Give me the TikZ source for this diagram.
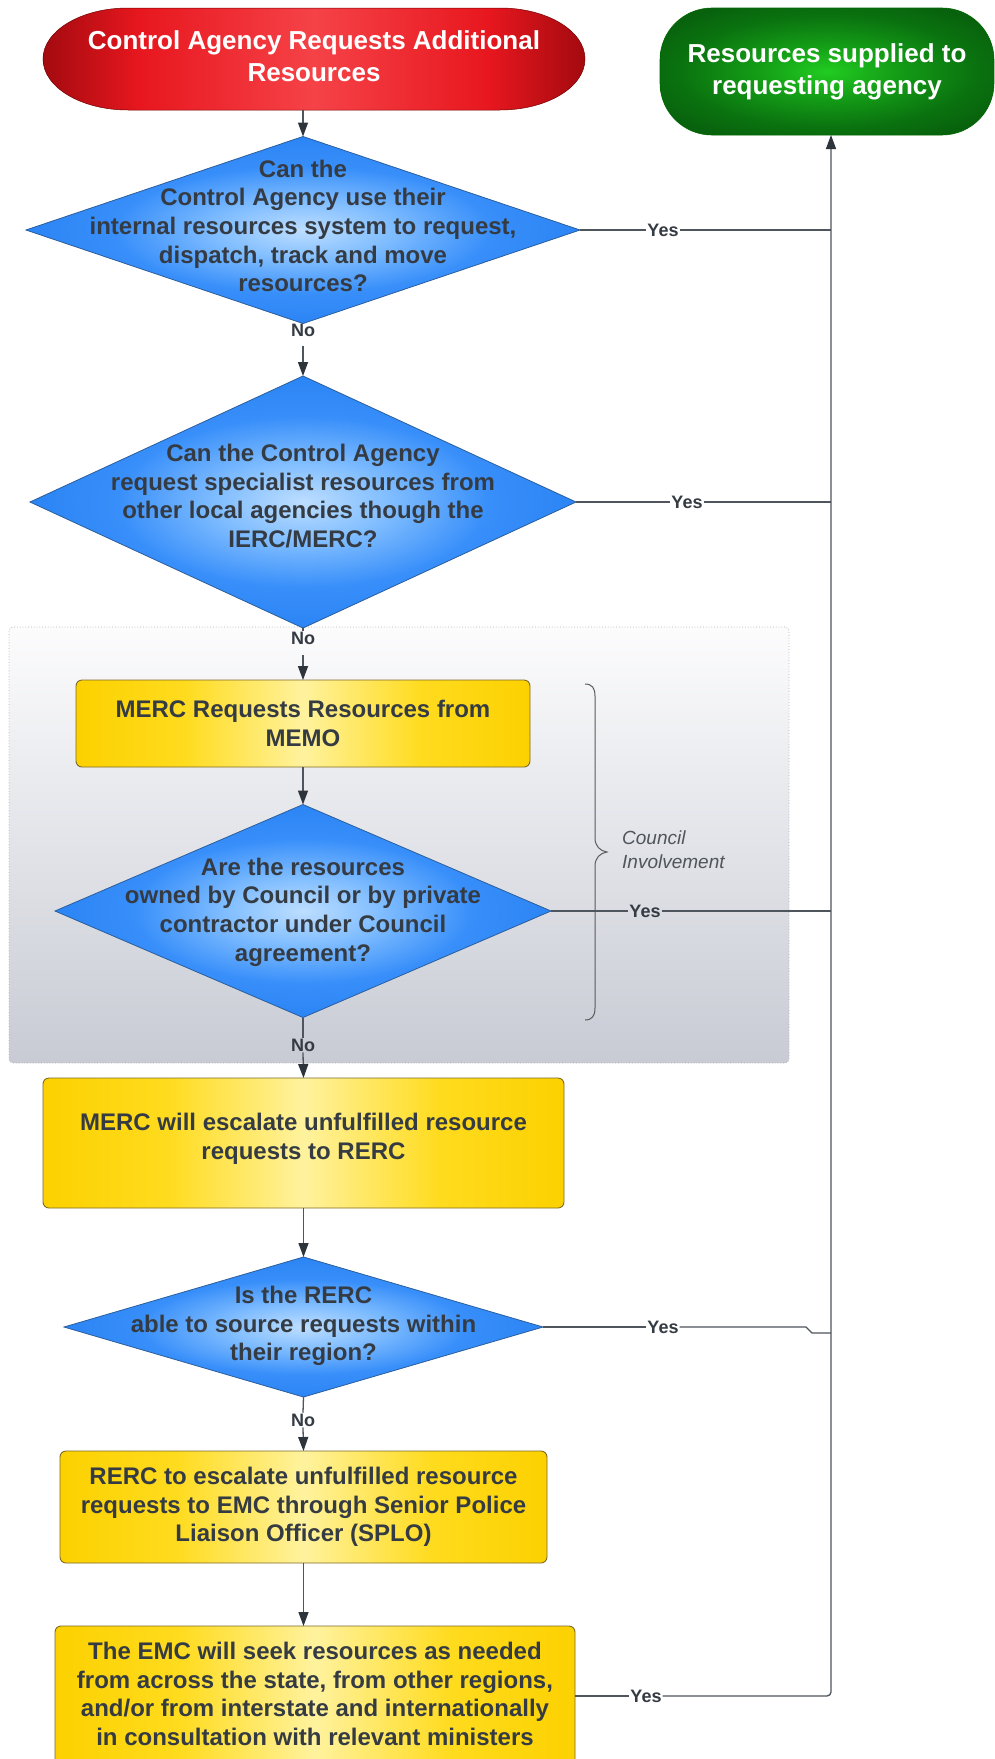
\documentclass[tikz,border=0pt]{standalone}
\usepackage{fontspec}
\setmainfont{Liberation Sans}
\usetikzlibrary{arrows.meta,shapes.geometric}
\definecolor{linec}{HTML}{4F555D}
\definecolor{arrc}{HTML}{2E343C}
\definecolor{txt}{HTML}{353B43}
\definecolor{diab}{HTML}{2B5E9C}
\definecolor{yelb}{HTML}{7D6B28}
\definecolor{grpb}{HTML}{B4B4B8}
\definecolor{grtop}{HTML}{FCFCFD}
\definecolor{grbot}{HTML}{C8CBD4}
\definecolor{brc}{HTML}{5A5A5A}
\definecolor{cic}{HTML}{50555C}
\pgfdeclarehorizontalshading{redsh}{100bp}{rgb(0bp)=(0.62,0.04,0.06); rgb(25bp)=(0.64,0.04,0.06); rgb(34bp)=(0.91,0.09,0.12); rgb(50bp)=(0.96,0.26,0.28); rgb(66bp)=(0.91,0.09,0.12); rgb(75bp)=(0.64,0.04,0.06); rgb(100bp)=(0.62,0.04,0.06)}
\pgfdeclareradialshading{greensh}{\pgfpoint{0bp}{0bp}}{rgb(0bp)=(0.13,0.80,0.13); rgb(10bp)=(0.08,0.62,0.09); rgb(22bp)=(0.04,0.45,0.06); rgb(30bp)=(0.03,0.38,0.05); rgb(50bp)=(0.03,0.36,0.05)}
\pgfdeclareradialshading{bluesh}{\pgfpoint{0bp}{0bp}}{rgb(0bp)=(0.74,0.87,1.0); rgb(8bp)=(0.50,0.74,1.0); rgb(17bp)=(0.22,0.56,0.98); rgb(25bp)=(0.17,0.52,0.96); rgb(50bp)=(0.17,0.52,0.96)}
\pgfdeclarehorizontalshading{yelsh}{100bp}{rgb(0bp)=(0.99,0.82,0.0); rgb(25bp)=(0.99,0.82,0.0); rgb(37bp)=(1.0,0.86,0.12); rgb(50bp)=(1.0,0.95,0.62); rgb(63bp)=(1.0,0.86,0.12); rgb(75bp)=(0.99,0.82,0.0); rgb(100bp)=(0.99,0.82,0.0)}
\tikzset{
  term/.style={rectangle, outer sep=0pt, text=white, font=\fontsize{26}{32}\selectfont\bfseries, align=center},
  dia/.style={diamond, shade, shading=bluesh, draw=diab, line width=0.8pt, inner sep=0pt, outer sep=0pt},
  dtext/.style={text=txt, font=\fontsize{24}{28.7}\selectfont\bfseries, align=center, inner sep=0pt},
  ybox/.style={rectangle, rounded corners=6pt, shade, shading=yelsh, draw=yelb, line width=0.9pt, outer sep=0pt, text=txt, font=\fontsize{24}{28.7}\selectfont\bfseries, align=center},
  lbl/.style={text=txt, font=\fontsize{18}{20}\selectfont\bfseries, inner sep=1pt, outer sep=0pt},
  conn/.style={draw=linec, line width=1.3pt},
  arr/.style={conn, -{Triangle[length=14pt,width=10pt,color=arrc]}},
  grpbox/.style={rectangle, rounded corners=4pt, top color=grtop, bottom color=grbot, draw=grpb, dotted, line width=0.8pt, outer sep=0pt},
  bracest/.style={draw=brc, line width=1pt},
  council/.style={text=cic, font=\fontsize{19}{24}\selectfont\itshape, align=left, inner sep=0pt}
}
\begin{document}
\begin{tikzpicture}[x=1pt,y=-1pt]
\useasboundingbox (0,0) rectangle (995,1759);
\fill[white] (0,0) rectangle (995,1759);

% group background
\node[grpbox, minimum width=780pt, minimum height=436pt] (grp) at (399,845) {};

% start terminal: flat top and bottom with elliptical ends
\shade[shading=redsh, draw=red!45!black, line width=0.5pt]
  (128,8) -- (500,8) .. controls (546.9,8) and (585,30.8) .. (585,59)
  .. controls (585,87.2) and (546.9,110) .. (500,110) -- (128,110)
  .. controls (81.1,110) and (43,87.2) .. (43,59)
  .. controls (43,30.8) and (81.1,8) .. (128,8) -- cycle;
\node[term, minimum width=542pt, minimum height=102pt] (start) at (314,59) {};
\node[term] (startt) at (314,56) {Control Agency Requests Additional\\Resources};

\node[term, shade, shading=greensh, draw=black!60!green, line width=0.6pt, minimum width=334pt, minimum height=127pt, rounded corners=52pt] (green) at (827,71.5) {Resources supplied to\\requesting agency};

% decisions and processes
\node[dia, minimum width=554pt, minimum height=187pt] (d1) at (303,230) {};
\node[dtext] (d1t) at (303,226) {Can the\\Control Agency use their\\internal resources system to request,\\dispatch, track and move\\resources?};

\node[dia, minimum width=546pt, minimum height=252pt] (d2) at (303,502) {};
\node[dtext] (d2t) at (303,496) {Can the Control Agency\\request specialist resources from\\other local agencies though the\\IERC/MERC?};

\node[ybox, minimum width=454pt, minimum height=87pt] (merc1) at (303,723.5) {MERC Requests Resources from\\MEMO};

\node[dia, minimum width=496pt, minimum height=213pt] (d3) at (303,911) {};
\node[dtext] (d3t) at (303,912) {Are the resources\\owned by Council or by private\\contractor under Council\\agreement?};

\node[ybox, minimum width=521pt, minimum height=130pt] (merc2) at (303.5,1143) {};
\node[dtext] (merc2t) at (303.5,1139) {MERC will escalate unfulfilled resource\\requests to RERC};

\node[dia, minimum width=479pt, minimum height=140pt] (d4) at (303.5,1327) {};
\node[dtext] (d4t) at (303.5,1326) {Is the RERC\\able to source requests within\\their region?};

\node[ybox, minimum width=487pt, minimum height=112pt] (rerc) at (303.5,1507) {RERC to escalate unfulfilled resource\\requests to EMC through Senior Police\\Liaison Officer (SPLO)};

\node[ybox, minimum width=520pt, minimum height=160pt] (emc) at (315,1706) {};
\node[dtext] (emct) at (315,1694) {The EMC will seek resources as needed\\from across the state, from other regions,\\and/or from interstate and internationally\\in consultation with relevant ministers};

% brace and council label
\draw[bracest] (585,684) .. controls (592,684) and (595,688) .. (595,696) -- (595,838)
  .. controls (595,846) and (600,851) .. (607,852)
  .. controls (600,853) and (595,858) .. (595,866) -- (595,1008)
  .. controls (595,1016) and (592,1020) .. (585,1020);
\node[council, anchor=west] (ci) at (622,850) {Council\\Involvement};

% No labels
\node[lbl, anchor=north] (n1) at (d1.south) {No};
\node[lbl] (n2) at (303,638) {No};
\node[lbl] (n3) at (303,1045) {No};
\node[lbl] (n4) at (303,1420) {No};

% Yes labels
\node[lbl] (y1) at (663,230) {Yes};
\node[lbl] (y2) at (687,502) {Yes};
\node[lbl] (y3) at (645,911) {Yes};
\node[lbl] (y4) at (663,1327) {Yes};
\node[lbl] (y5) at (646,1696) {Yes};

% junction coordinates on the return line
\coordinate (j1) at (831,230);
\coordinate (j2) at (831,502);
\coordinate (j3) at (831,911);
\coordinate (k4a) at (806,1327);
\coordinate (k4b) at (812,1333);
\coordinate (j4) at (831,1333);
\coordinate (j5) at (831,1696);

% main flow
\draw[arr] (d1.north |- start.south) -- (d1.north);
\draw[arr, shorten <=8pt] (n1.south) -- (d2.north);
\draw[conn] (d2.south) -- (n2.north);
\draw[arr, shorten <=10pt] (n2.south) -- (merc1.north);
\draw[arr] (merc1.south) -- (d3.north);
\draw[conn] (d3.south) -- (n3.north);
\draw[arr] (n3.south) -- (merc2.north);
\draw[arr] (merc2.south) -- (d4.north);
\draw[conn] (d4.south) -- (n4.north);
\draw[arr] (n4.south) -- (rerc.north);
\draw[arr] (rerc.south) -- (rerc.south |- emc.north);

% yes branches
\draw[conn] (d1.east) -- (y1.west);
\draw[conn] (y1.east) -- (j1);
\draw[conn] (d2.east) -- (y2.west);
\draw[conn] (y2.east) -- (j2);
\draw[conn] (d3.east) -- (y3.west);
\draw[conn] (y3.east) -- (j3);
\draw[conn] (d4.east) -- (y4.west);
\draw[conn] (y4.east) -- (k4a) -- (k4b) -- (j4);
\draw[conn] (emc.east |- y5) -- (y5.west);
\draw[arr, rounded corners=4pt] (y5.east) -- (j5) -- (j5 |- green.south);
\end{tikzpicture}
\end{document}
